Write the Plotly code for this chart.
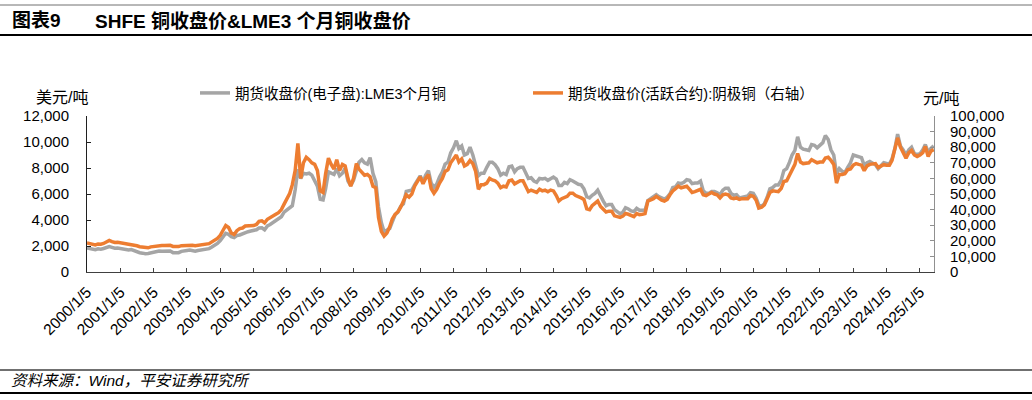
import pandas as pd
import plotly.graph_objects as go

# ---------------- data (monthly) ----------------
dates = pd.date_range("2000-01-01", periods=306, freq="MS") + pd.Timedelta(days=4)

lme_usd = [
    1850, 1800, 1760, 1720, 1790, 1760, 1810, 1870, 1960, 1900, 1830, 1850,
    1800, 1780, 1740, 1690, 1720, 1630, 1560, 1480, 1450, 1400, 1420, 1480,
    1500, 1560, 1610, 1590, 1600, 1650, 1610, 1490, 1480, 1490, 1590, 1600,
    1660, 1690, 1640, 1600, 1650, 1690, 1710, 1760, 1800, 1920, 2050, 2200,
    2420, 2750, 2980, 2900, 2720, 2650, 2800, 2850, 2950, 3050, 3100, 3150,
    3170, 3250, 3380, 3400, 3250, 3550, 3650, 3800, 3900, 4050, 4250, 4600,
    4750, 4950, 5100, 6300, 7900, 7200, 7600, 7550, 7600, 7450, 7000, 6600,
    5600, 5550, 6400, 7700, 7600, 7500, 7950, 7400, 7600, 8000, 7000, 6650,
    7050, 7900, 8450, 8650, 8400, 8300, 8800, 7600, 6950, 5000, 3800, 3100,
    3250, 3350, 3850, 4400, 4600, 5050, 5250, 6200, 6250, 6300, 6700, 7000,
    7400, 6900, 7450, 7800, 6850, 6500, 6750, 7300, 7700, 8300, 8450, 9150,
    9550, 10100, 9500, 9700, 9000, 9100, 9600, 9000, 8300, 7400, 7600, 7600,
    8050, 8450, 8450, 8250, 7950, 7450, 7600, 7500, 8100, 8150, 7700, 7950,
    8050, 8050, 7650, 7200, 7250, 7000, 6900, 7200, 7150, 7200, 7050, 7200,
    7300, 7150, 6650, 6650, 6900, 6800, 7100, 7000, 6850, 6750, 6700, 6400,
    5800, 5700, 5900, 6050, 6300, 5800, 5450, 5100, 5200, 5200, 4800, 4650,
    4480, 4600, 4950, 4850, 4700, 4650, 4900, 4750, 4750, 4750, 5500, 5650,
    5750, 5950, 5800, 5700, 5600, 5750, 6000, 6500, 6550, 6850, 6800, 6900,
    7100, 7050, 6800, 6850, 6850, 7000, 6250, 6050, 6050, 6200, 6200, 6100,
    5950, 6300, 6450, 6450, 6050, 5900, 5950, 5700, 5750, 5750, 5850, 6100,
    6050, 5700, 5150, 5050, 5250, 5750, 6400, 6500, 6700, 6700, 7050, 7800,
    7950, 8450, 9000, 9350, 10400, 9600, 9450, 9400, 9350, 9800, 9750, 9550,
    9800, 9950, 10500, 10200, 9400, 9000, 7550, 7950, 7750, 7650, 8050, 8400,
    9000, 8950, 8850, 8800, 8200, 8400, 8500, 8350, 8250, 7950, 8150, 8400,
    8350, 8300, 8700, 9500, 10600, 9700, 9400, 9000, 9400, 9600, 9100, 9050,
    9100, 9400, 9800, 9200, 9500, 9700,
]

shfe_cny = [
    18600, 18300, 17800, 17400, 18000, 17800, 18300, 19000, 20200, 19500, 18900, 19000,
    18700, 18400, 18000, 17600, 17800, 17300, 16800, 16200, 15900, 15400, 15500, 16100,
    16300, 16800, 17200, 17000, 17000, 17300, 17100, 16400, 16300, 16300, 16900, 17000,
    17400, 17600, 17200, 16900, 17200, 17500, 17700, 18000, 18200, 19300, 20200, 21500,
    23500, 27000, 29800, 28500, 25000, 24000, 26500, 27800, 28200, 29500, 29500, 29800,
    29800, 30500, 32500, 32800, 31500, 33800, 35000, 36000, 37000, 38000, 40000, 43500,
    47500, 50500, 56000, 65000, 82500, 60000, 70000, 73500, 72000, 70000, 69000, 65000,
    52000, 51000, 63000, 73000, 69000, 66000, 72000, 65000, 69000, 68000, 60000, 55000,
    60000, 69500, 66000, 64000, 62000, 62500, 61000, 55000, 54000, 35000, 26000, 23000,
    25000, 29000, 34000, 37000, 38500, 41500, 45000, 49500, 48000, 50000, 55000, 58500,
    61000, 56500, 60000, 62500, 53500, 50500, 53000, 57000, 60000, 64500, 65500, 70000,
    72500, 75000, 70500, 72500, 68000, 69000, 71500, 69500, 64500, 53000, 56000, 56000,
    57000, 60000, 59000, 58500, 57000, 54000, 55000, 54500, 58500, 59000, 56500, 57500,
    58500, 58500, 55500, 51500, 52500, 51500, 51000, 53000, 52000, 52500, 51500, 52500,
    52000, 49000, 45500, 47000, 48000, 48500, 50500, 50500, 49000, 48500, 47500, 46500,
    40500, 40000, 42500, 44000, 45500, 42000, 40000, 38500, 39000, 39000, 36000, 35500,
    35000, 35800, 37500, 37000, 36000, 35500, 37500, 36800, 37000, 37500, 45500, 46000,
    47000, 48500, 47000, 46000, 45500, 46500, 49500, 52000, 53500, 55000, 54000, 54500,
    55000, 53000, 51000, 51500, 52000, 53000, 49500, 49000, 50000, 51000, 50000, 49500,
    47500, 49500, 50000, 49500, 47500, 47000, 47500, 46500, 47000, 47000, 47000, 49000,
    48500, 46000, 41000, 41500, 43000, 47000, 51000, 52000, 51500, 51500, 53500, 58000,
    58500, 62000, 66000, 69000, 76000, 70500, 69500, 70000, 70000, 72000, 71000, 70000,
    70500, 70500, 73000, 73500, 71500, 69000, 57000, 62500, 62500, 63000, 65500, 66000,
    68500, 69500, 69000, 68500, 65000, 68000, 69000, 69500, 69500, 67000, 68000, 68800,
    68500, 68500, 71500, 78000, 86000, 80000, 77000, 73000, 76500, 78000, 75000, 74000,
    75000, 76500, 80500, 74000, 77500, 78500,
]

years = list(range(2000, 2026))
tick_vals = [f"{y}-01-05" for y in years]
tick_text = [f"{y}/1/5" for y in years]
left_ticks = [0, 2000, 4000, 6000, 8000, 10000, 12000]
right_ticks = list(range(0, 100001, 10000))

name_lme = "期货收盘价(电子盘):LME3个月铜"
name_shfe = "期货收盘价(活跃合约):阴极铜（右轴）"

# ---------------- layout geometry ----------------
W, H = 1032, 400
ML, MR, MT, MB = 87, 98, 116, 128
PW, PH = W - ML - MR, H - MT - MB

def px_x(p):
    return (p - ML) / PW

def px_y(p):
    return (H - MB - p) / PH

FONT = "Liberation Sans, Arial, Noto Sans CJK SC, sans-serif"

fig = go.Figure()
fig.add_trace(go.Scatter(x=dates, y=lme_usd, name=name_lme, mode="lines",
                         line=dict(color="#A5A5A5", width=3.5)))
fig.add_trace(go.Scatter(x=dates, y=shfe_cny, name=name_shfe, mode="lines", yaxis="y2",
                         line=dict(color="#ED7D31", width=3.5)))

fig.update_layout(
    width=W, height=H,
    margin=dict(l=ML, r=MR, t=MT, b=MB, pad=0, autoexpand=False),
    paper_bgcolor="white", plot_bgcolor="white",
    font=dict(family=FONT, size=15, color="#000000"),
    xaxis=dict(
        type="date", range=["2000-01-05", "2025-06-08"],
        tickmode="array", tickvals=tick_vals, ticktext=tick_text, tickangle=-45,
        ticks="inside", ticklen=4, tickcolor="#404040", tickfont=dict(size=15.5),
        showline=True, linecolor="#404040", linewidth=1, showgrid=False, zeroline=False,
        ticklabelstandoff=4, automargin=False,
    ),
    yaxis=dict(
        range=[0, 12000], tickmode="array", tickvals=left_ticks, tickformat=",d",
        ticks="inside", ticklen=4, tickcolor="#202020", tickfont=dict(size=15),
        showline=True, linecolor="#202020", linewidth=1, showgrid=False, zeroline=False,
        ticklabelstandoff=14, automargin=False,
    ),
    yaxis2=dict(
        range=[0, 100000], overlaying="y", side="right", tickmode="array",
        tickvals=right_ticks, tickformat=",d",
        ticks="inside", ticklen=4, tickcolor="#909090", tickfont=dict(size=15),
        showline=True, linecolor="#909090", linewidth=1, showgrid=False, zeroline=False,
        ticklabelstandoff=12, automargin=False,
    ),
    showlegend=True,
    legend=dict(
        orientation="h", x=px_x(195), xanchor="left", y=px_y(93), yanchor="middle",
        bgcolor="rgba(0,0,0,0)", borderwidth=0, font=dict(size=14.5),
        entrywidthmode="pixels", entrywidth=288, itemwidth=30,
    ),
)

annotations = [
    dict(text="<b>图表9</b>", x=px_x(10), y=px_y(21), xanchor="left", yanchor="middle",
         font=dict(size=19)),
    dict(text="<b>SHFE 铜收盘价&LME3 个月铜收盘价</b>", x=px_x(93), y=px_y(21),
         xanchor="left", yanchor="middle", font=dict(size=19)),
    dict(text="美元/吨", x=px_x(62), y=px_y(97), xanchor="center", yanchor="middle",
         font=dict(size=16)),
    dict(text="元/吨", x=px_x(941), y=px_y(98), xanchor="center", yanchor="middle",
         font=dict(size=16)),
    dict(text="<i>资料来源：Wind，平安证券研究所</i>", x=px_x(9), y=px_y(380),
         xanchor="left", yanchor="middle", font=dict(size=15.5)),
]
for a in annotations:
    a.update(xref="paper", yref="paper", showarrow=False)
fig.update_layout(annotations=annotations)

shapes = [
    (5, 1.0, "#707070"),
    (35, 2.0, "#000000"),
    (370, 1.5, "#404040"),
    (393, 2.0, "#000000"),
]
for ypx, w, c in shapes:
    fig.add_shape(type="line", xref="paper", yref="paper",
                  x0=px_x(0), x1=px_x(W), y0=px_y(ypx), y1=px_y(ypx),
                  line=dict(color=c, width=w))

fig.write_html("out.html", config={"displayModeBar": False},
               post_script="document.body.style.margin='0';")
